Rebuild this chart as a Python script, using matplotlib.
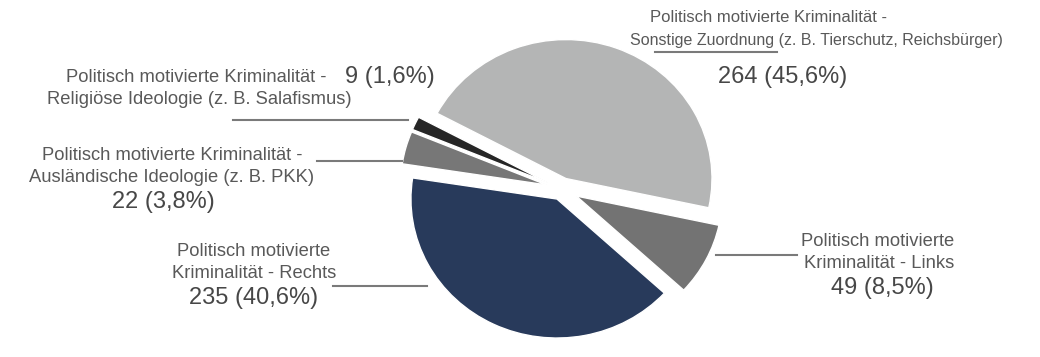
import matplotlib.pyplot as plt
from matplotlib.lines import Line2D

plt.rcParams['font.family'] = ['Liberation Sans', 'DejaVu Sans']

categories = ['Sonstige Zuordnung', 'Links', 'Rechts', 'Ausländische Ideologie', 'Religiöse Ideologie']
values = [264, 49, 235, 22, 9]
colors = ['#b4b5b5', '#737373', '#283a5b', '#777777', '#262626']
explode = [0.08, 0.11, 0.08, 0.11, 0.11]

W, H = 1040, 357
fig = plt.figure(figsize=(W / 100, H / 100), dpi=100)
ax = fig.add_axes([0, 0, 1, 1])

ax.pie(values, colors=colors, explode=explode, startangle=152, counterclock=False,
       wedgeprops=dict(edgecolor='white', linewidth=1))

# pie centre and radii in pixels (slightly wider than tall, like the source)
cx, cy, rx, ry = 562, 189, 146, 139
ax.set_aspect('auto')
ax.set_xlim(-cx / rx, (W - cx) / rx)
ax.set_ylim(-(H - cy) / ry, cy / ry)
ax.axis('off')

total = sum(values)


def lab(v):
    return f'{v} ({100 * v / total:.1f}%)'.replace('.', ',')


def txt(x, y, s, size=13.2, color='#595959', ha='center'):
    fig.text(x / W, 1 - y / H, s, ha=ha, va='center', fontsize=size, color=color)


def leader(x0, x1, y):
    fig.add_artist(Line2D([x0 / W, x1 / W], [1 - y / H, 1 - y / H], color='#7a7a7a', lw=1.5))


big = 17
dark = '#474747'

# Sonstige
txt(768, 18, 'Politisch motivierte Kriminalität -', 12)
txt(816, 40, 'Sonstige Zuordnung (z. B. Tierschutz, Reichsbürger)', 11.5)
txt(783, 77, lab(values[0]), big, dark)
leader(655, 777, 52)

# Religiöse
txt(327, 77, 'Politisch motivierte Kriminalität -', ha='right')
txt(345, 77, lab(values[4]), big, dark, ha='left')
txt(199, 100, 'Religiöse Ideologie (z. B. Salafismus)')
leader(233, 408, 120)

# Ausländische
txt(172, 156, 'Politisch motivierte Kriminalität -')
txt(172, 177, 'Ausländische Ideologie (z. B. PKK)')
txt(163, 202, lab(values[3]), big, dark)
leader(317, 402, 161)

# Rechts
txt(254, 252, 'Politisch motivierte')
txt(254, 273, 'Kriminalität - Rechts')
txt(254, 298, lab(values[2]), big, dark)
leader(333, 427, 286)

# Links
txt(878, 242, 'Politisch motivierte')
txt(879, 263, 'Kriminalität - Links')
txt(882, 288, lab(values[1]), big, dark)
leader(716, 797, 255)

fig.savefig('out.png', dpi=100)
